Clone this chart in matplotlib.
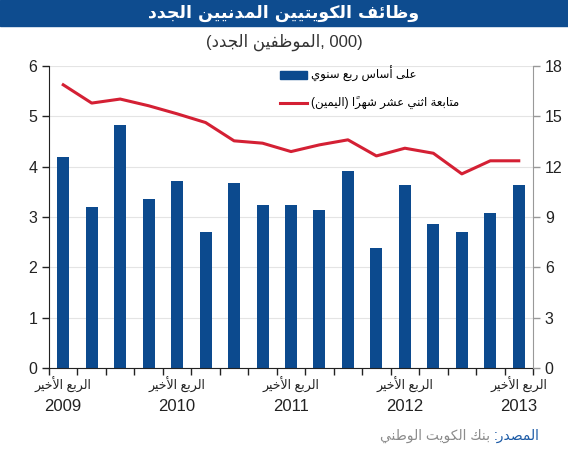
import numpy as np
import matplotlib
matplotlib.use('Agg')
import matplotlib.pyplot as plt
from matplotlib.patches import Rectangle
from matplotlib.lines import Line2D

plt.rcParams['font.family'] = ['Liberation Sans', 'DejaVu Sans']

# Data (thousands of new employees), Q4 2009 .. Q4 2013
quarters = ['Q4-09', 'Q1-10', 'Q2-10', 'Q3-10', 'Q4-10', 'Q1-11', 'Q2-11', 'Q3-11', 'Q4-11',
            'Q1-12', 'Q2-12', 'Q3-12', 'Q4-12', 'Q1-13', 'Q2-13', 'Q3-13', 'Q4-13']
quarterly = [4.19, 3.20, 4.83, 3.36, 3.72, 2.71, 3.68, 3.24, 3.24,
             3.14, 3.92, 2.39, 3.64, 2.86, 2.71, 3.08, 3.64]
rolling_12m = [16.88, 15.79, 16.03, 15.63, 15.15, 14.63, 13.54, 13.40, 12.90,
               13.30, 13.60, 12.64, 13.10, 12.80, 11.57, 12.35, 12.35]
year_labels = ['2009', '2010', '2011', '2012', '2013']
year_pos = [0, 4, 8, 12, 16]

title = 'وظائف الكويتيين المدنيين الجدد'
subtitle_ar = 'الموظفين الجدد'
label_bar = 'على أساس ربع سنوي'
label_line = 'متابعة اثني عشر شهراً'
label_right = 'اليمين'
quarter_label = 'الربع الأخير'
source_head = 'المصدر:'
source_body = 'بنك الكويت الوطني'


# Minimal Arabic shaping: presentation forms + visual (RTL) order
_LETTERS = 'ءآأؤإئابةتثجحخدذرزسشصضطظعغفقكلمنهوىي'
FORMS = {}
_cp = 0xFE80
for ch in _LETTERS:
    n = 1 if ch == 'ء' else (2 if ch in 'آأؤإاةدذرزوى' else 4)
    FORMS[ch] = list(range(_cp, _cp + n))
    _cp += n
LAM_ALEF = {'آ': 0xFEF5, 'أ': 0xFEF7, 'إ': 0xFEF9, 'ا': 0xFEFB}


def shape_word(word):
    items = []
    i = 0
    while i < len(word):
        ch = word[i]
        if 0x064B <= ord(ch) <= 0x0652 and items:
            items[-1][2] += ch
            i += 1
            continue
        if ch == 'ل' and i + 1 < len(word) and word[i + 1] in LAM_ALEF:
            base = LAM_ALEF[word[i + 1]]
            items.append([[base, base + 1], False, ''])
            i += 2
            continue
        if ch in FORMS:
            items.append([FORMS[ch], len(FORMS[ch]) == 4, ''])
        else:
            items.append([None, False, ch])
        i += 1
    out = []
    for k, (forms, dual, marks) in enumerate(items):
        if forms is None:
            out.append(marks)
            continue
        prev = k > 0 and items[k - 1][1] and len(forms) > 1
        nxt = dual and k + 1 < len(items) and items[k + 1][0] is not None and len(items[k + 1][0]) > 1
        idx = 3 if (prev and nxt) else 2 if nxt else 1 if prev else 0
        out.append(chr(forms[idx]) + marks)
    return ''.join(reversed(out))


def ar(text):
    return ' '.join(shape_word(w) for w in reversed(text.split(' ')))


W, H = 568, 450
fig = plt.figure(figsize=(W / 100, H / 100), dpi=100)

# title band
fig.patches.append(Rectangle((0, 1 - 26 / H), 1, 26 / H, transform=fig.transFigure,
                             color='#0E4C8F', zorder=0))
fig.text(0.5, 1 - 13 / H, ar(title), color='white', fontsize=12.5, fontweight='bold',
         ha='center', va='center', family=['DejaVu Sans'])
fig.text(0.5, 1 - 42 / H, '(' + ar(subtitle_ar) + ', 000)', color='#333333', fontsize=12,
         ha='center', va='center')

ax = fig.add_axes([49 / W, 82 / H, 484 / W, 302 / H])
x = np.arange(len(quarterly))
ax.bar(x, quarterly, width=0.42, color='#0C4A8E', zorder=2)
ax.set_xlim(-0.5, len(quarterly) - 0.5)
ax.set_ylim(0, 6)
ax.set_yticks(range(7))
ax.grid(axis='y', color='#e4e4e4', lw=0.8)
ax.set_axisbelow(True)
ax.set_xticks(np.arange(-0.5, len(quarterly), 1))
ax.set_xticklabels([])
for s in ['top', 'right']:
    ax.spines[s].set_visible(False)
ax.spines['left'].set_color('#222222')
ax.spines['bottom'].set_color('#222222')
ax.tick_params(axis='both', length=5, width=1, color='#222222', labelsize=11.5, labelcolor='#222222')

ax2 = ax.twinx()
ax2.plot(x, rolling_12m, color='#D42034', lw=2.2)
ax2.set_ylim(0, 18)
ax2.set_yticks(range(0, 19, 3))
for s in ['top', 'left', 'bottom']:
    ax2.spines[s].set_visible(False)
ax2.spines['right'].set_color('#999999')
ax2.tick_params(axis='y', length=5, width=1, color='#999999', labelsize=11.5, labelcolor='#222222')

for pos, yr in zip(year_pos, year_labels):
    ax.annotate(ar(quarter_label), xy=(pos, 0), xycoords=('data', 'axes fraction'),
                xytext=(0, -12.5), textcoords='offset points', ha='center', va='center',
                fontsize=9, color='#222222')
    ax.annotate(yr, xy=(pos, 0), xycoords=('data', 'axes fraction'),
                xytext=(0, -27.5), textcoords='offset points', ha='center', va='center',
                fontsize=12, color='#222222')

handles = [Rectangle((0, 0), 1, 1, color='#0C4A8E'), Line2D([], [], color='#D42034', lw=2.2)]
labels = [ar(label_bar), '(' + ar(label_right) + ') ' + ar(label_line)]
ax2.legend(handles, labels, loc='upper left', bbox_to_anchor=(0.455, 1.035), frameon=False,
           fontsize=8.5, handlelength=2.3, handleheight=0.6, labelspacing=1.25, handletextpad=0.3)

# source line
head = fig.text(540 / W, 1 - 436 / H, ar(source_head), color='#1B5AA6', fontsize=10,
                ha='right', va='center')
fig.canvas.draw()
bb = head.get_window_extent()
fig.text((bb.x0 - 4) / W, 1 - 436 / H, ar(source_body), color='#8C8C8C', fontsize=10,
         ha='right', va='center')

fig.savefig('out.png', dpi=100)
